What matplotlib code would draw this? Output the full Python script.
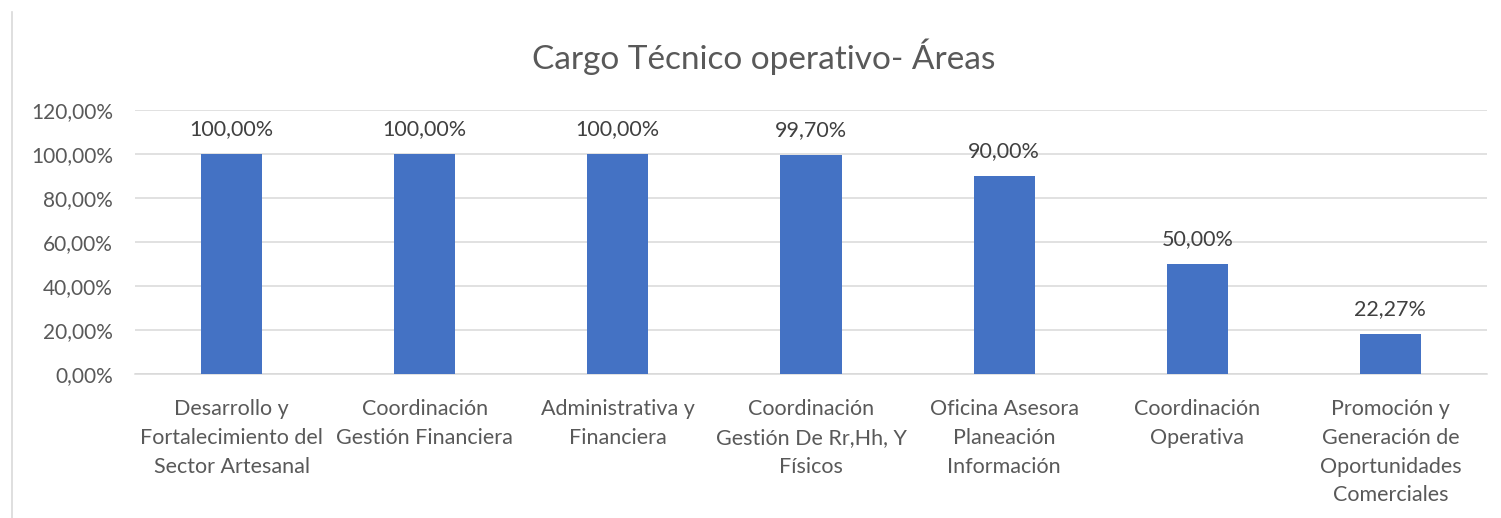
import matplotlib.pyplot as plt
from matplotlib.ticker import FuncFormatter
from matplotlib.lines import Line2D

plt.rcParams['font.family'] = ['Lato', 'DejaVu Sans']

# data
areas = [
    "Desarrollo y\nFortalecimiento del\nSector Artesanal",
    "Coordinación\nGestión Financiera",
    "Administrativa y\nFinanciera",
    "Coordinación\nGestión De Rr,Hh, Y\nFísicos",
    "Oficina Asesora\nPlaneación\nInformación",
    "Coordinación\nOperativa",
    "Promoción y\nGeneración de\nOportunidades\nComerciales",
]
bar_values = [100.0, 100.0, 100.0, 99.7, 90.0, 50.0, 18.2]
bar_labels = ["100,00%", "100,00%", "100,00%", "99,70%", "90,00%", "50,00%", "22,27%"]
y_ticks = [0, 20, 40, 60, 80, 100, 120]

fig = plt.figure(figsize=(15.01, 5.18), dpi=100)
ax = fig.add_axes([135 / 1501, 1 - 374 / 518, (1487 - 135) / 1501, (374 - 110) / 518])

x = list(range(len(areas)))
ax.bar(x, bar_values, width=0.316, color='#4472C4', zorder=3)

for xi, v, lab in zip(x, bar_values, bar_labels):
    ax.annotate(lab, (xi, v), xytext=(0, 18), textcoords='offset points',
                ha='center', va='center', fontsize=15.5, color='#404040')

ax.set_xlim(-0.5, len(areas) - 0.5)
ax.set_ylim(0, 120)
ax.set_yticks(y_ticks)
ax.yaxis.set_major_formatter(FuncFormatter(lambda v, p: f"{v:.2f}%".replace('.', ',')))
ax.grid(axis='y', color='#D9D9D9', linewidth=1.1, zorder=0)
ax.set_xticks(x)
ax.set_xticklabels(areas, fontsize=15.5, color='#595959', linespacing=1.55)
ax.tick_params(axis='y', length=0, pad=16, labelsize=15, labelcolor='#595959')
ax.tick_params(axis='x', length=0, pad=18)

for side in ['top', 'right', 'left']:
    ax.spines[side].set_visible(False)
ax.spines['bottom'].set_color('#D9D9D9')
ax.spines['bottom'].set_linewidth(1.1)

fig.text(764 / 1501, 1 - 57 / 518, "Cargo Técnico operativo- Áreas", ha='center', va='center',
         fontsize=24, color='#595959')

# chart border on the left
fig.add_artist(Line2D([12 / 1501, 12 / 1501], [0, 1 - 12 / 518], color='#D9D9D9', linewidth=1.2))

fig.savefig('out.png', dpi=100)
